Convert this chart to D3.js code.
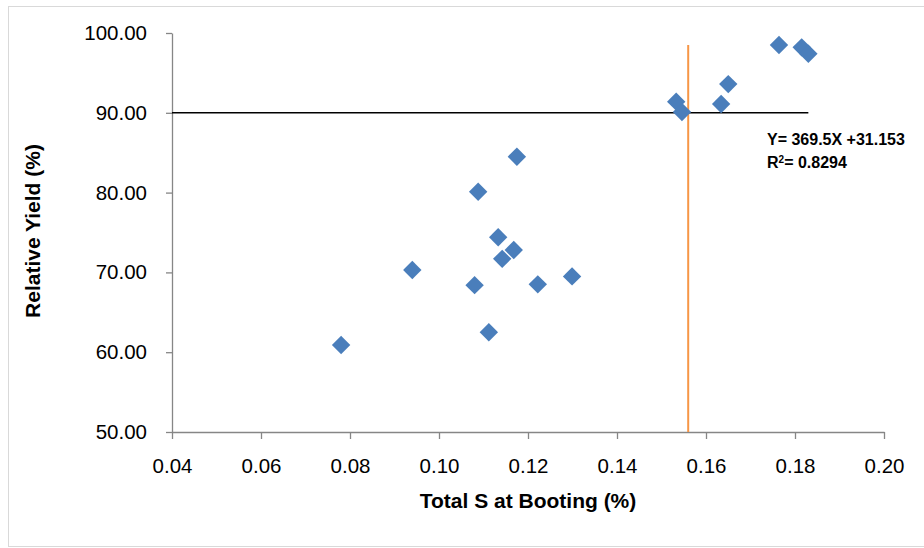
<!DOCTYPE html>
<html>
<head>
<meta charset="utf-8">
<script src="https://cdn.jsdelivr.net/npm/d3@7"></script>
<style>
  body { margin: 0; background: #fff; }
  text { font-family: "Liberation Sans", Arial, sans-serif; }
</style>
</head>
<body>
<svg id="chart"></svg>
<script>
// Data
const sValues = [0.078, 0.094, 0.108, 0.1088, 0.1112, 0.1133, 0.1142, 0.1168, 0.1175, 0.1222, 0.1299,
  0.1533, 0.1546, 0.1634, 0.165, 0.1764, 0.1815, 0.183];
const yieldValues = [60.9, 70.3, 68.4, 80.1, 62.5, 74.4, 71.7, 72.8, 84.5, 68.5, 69.5,
  91.4, 90.1, 91.1, 93.6, 98.5, 98.2, 97.4];
const xTicks = [0.04, 0.06, 0.08, 0.10, 0.12, 0.14, 0.16, 0.18, 0.20];
const yTicks = [50, 60, 70, 80, 90, 100];
const criticalS = 0.156;       // vertical orange line
const targetYield = 90;        // horizontal black line
const refLineEnd = 0.183;
const equationLines = ["Y= 369.5X +31.153", "R2= 0.8294"];

const W = 924, H = 548;
const margin = { top: 33, right: 40, bottom: 116, left: 172 };
const width = 884 - margin.left;
const height = 432 - margin.top;

const svg = d3.select("#chart").attr("width", W).attr("height", H);

// outer frame
svg.append("rect")
  .attr("x", 8.5).attr("y", 6.5)
  .attr("width", W).attr("height", 540)
  .attr("fill", "none").attr("stroke", "#d9d9d9");

const g = svg.append("g").attr("transform", `translate(${margin.left},${margin.top})`);

const x = d3.scaleLinear().domain([0.04, 0.20]).range([0, width]);
const y = d3.scaleLinear().domain([50, 100]).range([height, 0]);

// Axes
const xAxis = g.append("g")
  .attr("transform", `translate(0,${height})`)
  .call(d3.axisBottom(x).tickValues(xTicks).tickFormat(d3.format(".2f")).tickSizeInner(7).tickSizeOuter(0).tickPadding(19));
const yAxis = g.append("g")
  .call(d3.axisLeft(y).tickValues(yTicks).tickFormat(d3.format(".2f")).tickSizeInner(6).tickSizeOuter(0).tickPadding(19));

[xAxis, yAxis].forEach(a => {
  a.select(".domain").attr("stroke", "#868686").attr("stroke-width", 1.3);
  a.selectAll(".tick line").attr("stroke", "#868686").attr("stroke-width", 1.3);
  a.selectAll(".tick text").attr("fill", "#000").style("font-size", "20.5px")
    .style("font-family", "'Liberation Sans', Arial, sans-serif");
});

// Reference lines
g.append("line")
  .attr("x1", x(criticalS)).attr("x2", x(criticalS))
  .attr("y1", 12).attr("y2", height)
  .attr("stroke", "#f79646").attr("stroke-width", 2);

g.append("line")
  .attr("x1", 0).attr("x2", x(refLineEnd))
  .attr("y1", y(targetYield)).attr("y2", y(targetYield))
  .attr("stroke", "#000").attr("stroke-width", 1.5);

// Points
const pts = sValues.map((s, i) => ({ s, ry: yieldValues[i] }));
g.selectAll(".pt")
  .data(pts)
  .enter()
  .append("rect")
  .attr("class", "pt")
  .attr("x", -6.5).attr("y", -6.5)
  .attr("width", 13).attr("height", 13)
  .attr("transform", d => `translate(${x(d.s)},${y(d.ry)}) rotate(45)`)
  .attr("fill", "#4a7ebb");

// Equation
const eq = svg.append("text")
  .attr("x", 767).attr("y", 145)
  .style("font-size", "16px").style("font-weight", "bold");
eq.text(equationLines[0]);
const r2 = svg.append("text")
  .attr("x", 767).attr("y", 168)
  .style("font-size", "16px").style("font-weight", "bold");
r2.append("tspan").text("R");
r2.append("tspan").attr("baseline-shift", "super").style("font-size", "10px").text("2");
r2.append("tspan").text("= 0.8294");

// Axis titles
svg.append("text")
  .attr("x", 528).attr("y", 508)
  .attr("text-anchor", "middle")
  .style("font-size", "21px").style("font-weight", "bold")
  .text("Total S at Booting (%)");

svg.append("text")
  .attr("transform", `translate(40,231) rotate(-90)`)
  .attr("text-anchor", "middle")
  .style("font-size", "21px").style("font-weight", "bold")
  .text("Relative Yield (%)");
</script>
</body>
</html>
